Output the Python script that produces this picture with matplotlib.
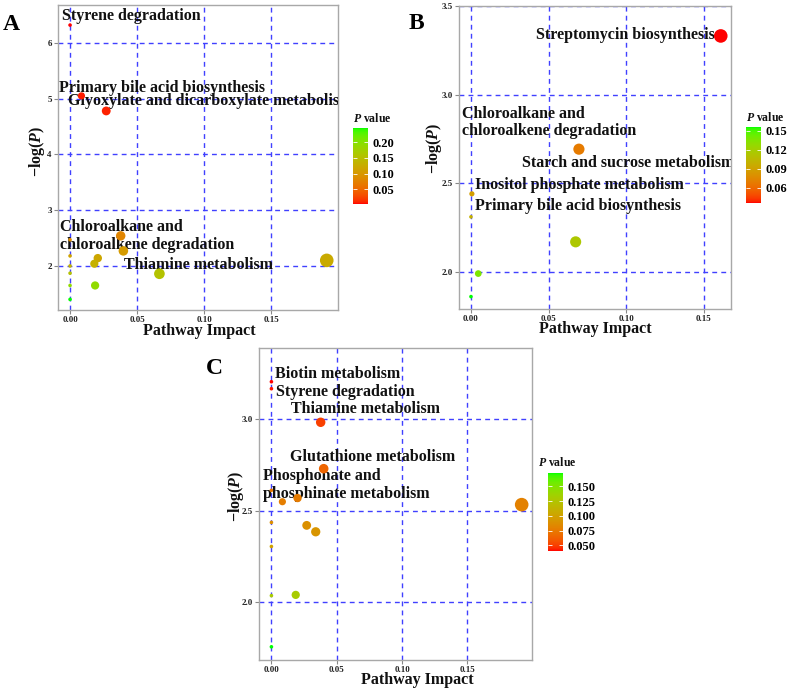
import numpy as np
import matplotlib
matplotlib.use("Agg")
import matplotlib.pyplot as plt
from matplotlib.colors import LinearSegmentedColormap, Normalize
from matplotlib.cm import ScalarMappable

plt.rcParams['font.family'] = ['Liberation Serif', 'DejaVu Serif']
plt.rcParams['font.weight'] = 'bold'
plt.rcParams['mathtext.fontset'] = 'custom'
plt.rcParams['mathtext.rm'] = 'Liberation Serif:bold'
plt.rcParams['mathtext.it'] = 'Liberation Serif:bold:italic'
plt.rcParams['mathtext.bf'] = 'Liberation Serif:bold'

# ---------------- data ----------------
A_impact = [0.0, 0.0085, 0.027, 0.0378, 0.0398, 0.0207, 0.0181, 0.0187, 0.0667, 0.1916,
            0.0, 0.0, 0.0, 0.0, 0.0, 0.0]
A_neglogp = [6.32, 5.05, 4.78, 2.54, 2.27, 2.14, 2.04, 1.65, 1.86, 2.10,
             2.47, 2.18, 2.00, 1.87, 1.65, 1.40]

B_impact = [0.1608, 0.0695, 0.0006, 0.0, 0.0674, 0.0047, 0.0]
B_neglogp = [3.331, 2.692, 2.44, 2.31, 2.169, 1.99, 1.86]

C_impact = [0.0, 0.0, 0.0377, 0.040, 0.0, 0.0084, 0.020, 0.027, 0.0339, 0.1915,
            0.0, 0.0, 0.0, 0.0186, 0.0]
C_neglogp = [3.202, 3.164, 2.981, 2.728, 2.61, 2.548, 2.568, 2.419, 2.384, 2.532,
             2.435, 2.304, 2.036, 2.04, 1.757]

A_labels = ["Styrene degradation", "Primary bile acid biosynthesis",
            "Glyoxylate and dicarboxylate metabolism",
            "Chloroalkane and\nchloroalkene degradation", "Thiamine metabolism"]
B_labels = ["Streptomycin biosynthesis", "Chloroalkane and\nchloroalkene degradation",
            "Starch and sucrose metabolism", "Inositol phosphate metabolism",
            "Primary bile acid biosynthesis"]
C_labels = ["Biotin metabolism", "Styrene degradation", "Thiamine metabolism",
            "Glutathione metabolism", "Phosphonate and\nphosphinate metabolism"]

A_cbar_ticks = [0.05, 0.10, 0.15, 0.20]
B_cbar_ticks = [0.06, 0.09, 0.12, 0.15]
C_cbar_ticks = [0.050, 0.075, 0.100, 0.125, 0.150]

# ---------------- helpers ----------------
W, H = 789, 689
fig = plt.figure(figsize=(W / 100, H / 100), dpi=100)


def rect(l, t, r, b):
    return [l / W, 1 - b / H, (r - l) / W, (b - t) / H]


def lab2rgb(L, a, b):
    fy = (L + 16) / 116.0
    fx = fy + a / 500.0
    fz = fy - b / 200.0

    def finv(t):
        return t ** 3 if t ** 3 > 0.008856 else (t - 16 / 116.0) / 7.787
    X, Y, Z = 0.95047 * finv(fx), finv(fy), 1.08883 * finv(fz)
    rgb = [3.2406 * X - 1.5372 * Y - 0.4986 * Z,
           -0.9689 * X + 1.8758 * Y + 0.0415 * Z,
           0.0557 * X - 0.2040 * Y + 1.0570 * Z]
    out = []
    for c in rgb:
        c = 12.92 * c if c <= 0.0031308 else 1.055 * c ** (1 / 2.4) - 0.055
        out.append(min(max(c, 0), 1))
    return out


red_lab = np.array([53.24, 80.09, 67.20])
green_lab = np.array([87.73, -86.18, 83.18])
stops = [lab2rgb(*(red_lab + t * (green_lab - red_lab))) for t in np.linspace(0, 1, 256)]
cmap = LinearSegmentedColormap.from_list("redgreen", stops)

GRID_COLOR = (0.25, 0.25, 1.0)


def panel(axrect, cbrect, impact, neglogp, xlim, ylim, yticks, ylabels,
          labels, label_pos, label_ha, cbar_ticks, cbar_fmt,
          letter, letter_xy, xlab_xy, ylab_xy, cbtitle_xy):
    ax = fig.add_axes(rect(*axrect))
    impact = np.array(impact)
    y = np.array(neglogp)
    p = np.exp(-y)
    norm = Normalize(vmin=p.min(), vmax=p.max())
    dpx = 3.6 + 10.0 * (impact / impact.max()) ** 0.33
    s = (dpx * 72 / 100) ** 2
    ax.scatter(impact, y, s=s, c=p, cmap=cmap, norm=norm, edgecolors='none', zorder=6)
    ax.set_xlim(*xlim)
    ax.set_ylim(*ylim)
    ax.set_xticks([0, 0.05, 0.10, 0.15])
    ax.set_xticklabels(["0.00", "0.05", "0.10", "0.15"])
    ax.set_yticks(yticks)
    ax.set_yticklabels(ylabels)
    ax.grid(True, color=GRID_COLOR, linestyle=(0, (3.5, 3)), linewidth=1.0, zorder=1)
    ax.set_axisbelow(True)
    for sp in ax.spines.values():
        sp.set_color('#A8A8A8')
        sp.set_linewidth(1.0)
    ax.tick_params(axis='both', length=3, width=0.8, color='#888888', pad=1.5,
                   labelsize=6.5, labelcolor='#222222')
    for lab in ax.get_xticklabels() + ax.get_yticklabels():
        lab.set_fontweight('bold')
    for txt, (tx, ty), ha in zip(labels, label_pos, label_ha):
        ax.text(tx, ty, txt, ha=ha, va='center', fontsize=11.5, fontweight='bold',
                color='#111111', linespacing=1.15, clip_on=True, zorder=5)
    # axis titles
    fig.text(xlab_xy[0] / W, 1 - xlab_xy[1] / H, "Pathway Impact", ha='center', va='center',
             fontsize=11.5, fontweight='bold', color='#111111')
    fig.text(ylab_xy[0] / W, 1 - ylab_xy[1] / H, "\u2212log($P$)", ha='center', va='center',
             rotation=90, fontsize=11.5, fontweight='bold', color='#111111')
    fig.text(letter_xy[0] / W, 1 - letter_xy[1] / H, letter, ha='center', va='center',
             fontsize=17, fontweight='bold', color='black')
    # colorbar
    cax = fig.add_axes(rect(*cbrect))
    cb = fig.colorbar(ScalarMappable(norm=norm, cmap=cmap), cax=cax)
    cb.outline.set_visible(False)
    cb.set_ticks(cbar_ticks)
    cb.set_ticklabels([cbar_fmt.format(v) for v in cbar_ticks])
    cax.tick_params(axis='y', direction='in', color='white', length=3, width=0.6,
                    left=True, right=True, labelleft=False, labelright=True,
                    labelsize=9, pad=3)
    for lab in cax.get_yticklabels():
        lab.set_fontweight('bold')
    fig.text(cbtitle_xy[0] / W, 1 - cbtitle_xy[1] / H, "$P$ value", ha='left', va='center',
             fontsize=8.5, fontweight='bold', color='#111111')
    return ax


# Panel A
panel(axrect=(58, 5, 338, 310), cbrect=(353, 128, 368, 204),
      impact=A_impact, neglogp=A_neglogp,
      xlim=(-0.009, 0.200), ylim=(1.21, 6.68),
      yticks=[2, 3, 4, 5, 6], ylabels=["2", "3", "4", "5", "6"],
      labels=A_labels,
      label_pos=[(-0.006, 6.49), (-0.0082, 5.20), (-0.0015, 4.957),
                 (-0.0075, 2.544), (0.0403, 2.0125)],
      label_ha=['left'] * 5,
      cbar_ticks=A_cbar_ticks, cbar_fmt="{:.2f}",
      letter="A", letter_xy=(11, 25), xlab_xy=(199, 331), ylab_xy=(37, 151),
      cbtitle_xy=(353, 118.3))

# Panel B
panel(axrect=(459, 6, 731, 309), cbrect=(746, 127, 761, 203),
      impact=B_impact, neglogp=B_neglogp,
      xlim=(-0.0077, 0.1674), ylim=(1.79, 3.5),
      yticks=[2.0, 2.5, 3.0, 3.5], ylabels=["2.0", "2.5", "3.0", "3.5"],
      labels=B_labels,
      label_pos=[(0.1571, 3.339), (-0.006, 2.843), (0.0328, 2.613),
                 (0.0026, 2.491), (0.0026, 2.369)],
      label_ha=['right', 'left', 'left', 'left', 'left'],
      cbar_ticks=B_cbar_ticks, cbar_fmt="{:.2f}",
      letter="B", letter_xy=(416.7, 23.3), xlab_xy=(595, 329), ylab_xy=(434, 148.5),
      cbtitle_xy=(745.7, 117.7))

# Panel C
panel(axrect=(259, 348, 532, 660), cbrect=(548, 473, 563, 551),
      impact=C_impact, neglogp=C_neglogp,
      xlim=(-0.0095, 0.1994), ylim=(1.685, 3.386),
      yticks=[2.0, 2.5, 3.0], ylabels=["2.0", "2.5", "3.0"],
      labels=C_labels,
      label_pos=[(0.0025, 3.246), (0.0038, 3.145), (0.0153, 3.051),
                 (0.0145, 2.794), (-0.0064, 2.639)],
      label_ha=['left'] * 5,
      cbar_ticks=C_cbar_ticks, cbar_fmt="{:.3f}",
      letter="C", letter_xy=(214.7, 368), xlab_xy=(417, 680), ylab_xy=(236, 496),
      cbtitle_xy=(538, 462.7))

fig.savefig("out.png", dpi=100)
